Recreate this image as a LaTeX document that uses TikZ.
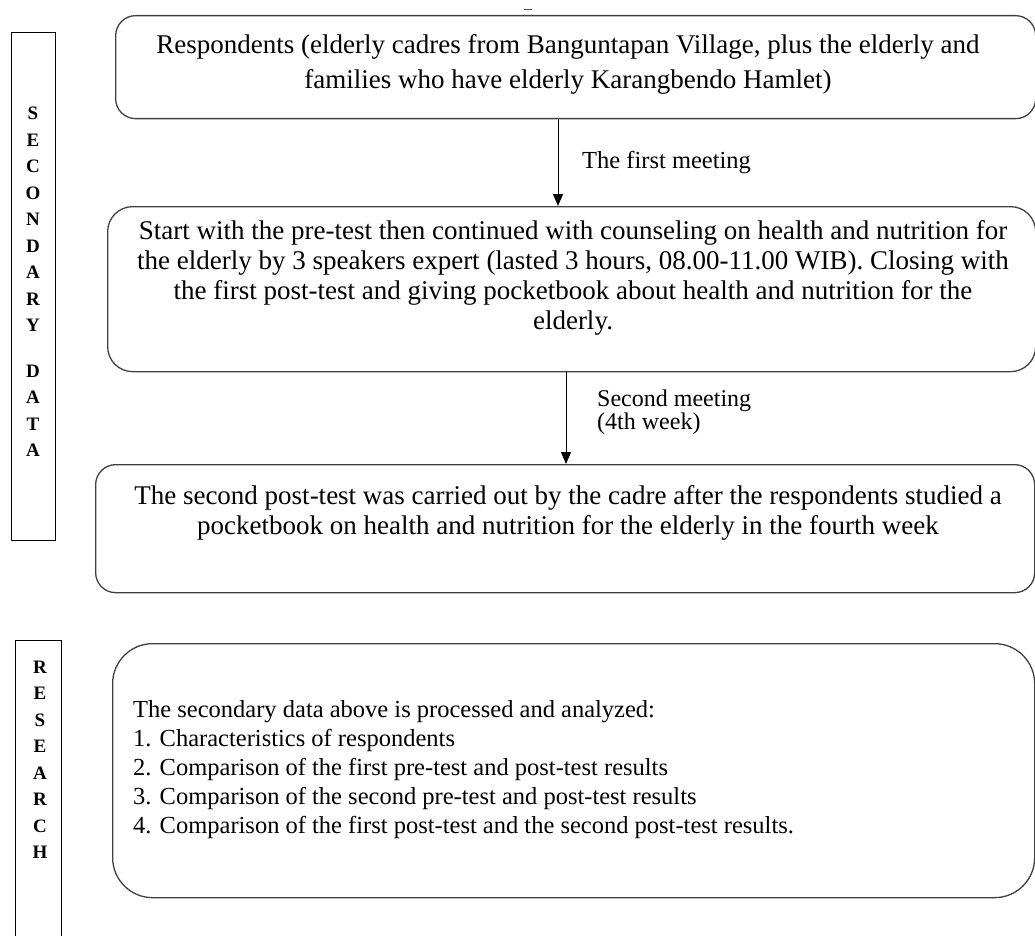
\documentclass[tikz,border=0pt]{standalone}
\usepackage{fontspec}
\setmainfont{Liberation Serif}
\usetikzlibrary{arrows.meta}
\tikzset{
  box/.style={draw=black!75, line width=1.3pt, anchor=north west, inner sep=0pt},
  side/.style={draw=black, line width=0.9pt},
  body/.style={font=\fontsize{27}{30}\selectfont, align=center, inner sep=0pt},
  listtxt/.style={font=\fontsize{24.5}{29}\selectfont, align=left, inner sep=0pt, anchor=west},
  lbl/.style={font=\fontsize{24.5}{23}\selectfont, align=left, inner sep=0pt, anchor=west},
  sidetxt/.style={font=\fontsize{19}{26.5}\selectfont\bfseries, align=center, inner sep=0pt},
  arr/.style={-{Triangle[length=12pt,width=10pt]}, line width=1pt, black},
}
\begin{document}
\begin{tikzpicture}[x=1pt,y=-1pt]
\useasboundingbox (0,0) rectangle (1035,936);
% sidebars
\draw[side] (11,32) rectangle (55,540);
\node[sidetxt] (sd) at (33,282) {S\\E\\C\\O\\N\\D\\A\\R\\Y\\[19pt]D\\A\\T\\A};
\draw[side] (15,937) -- (15,640) -- (61,640) -- (61,937);
\node[sidetxt] (rs) at (40,760) {R\\E\\S\\E\\A\\R\\C\\H};
% small mark at top
\draw[line width=0.8pt, black!70] (524,9) -- (532,9);
% boxes
\node[box, rounded corners=20pt, minimum width=920pt, minimum height=103pt] (b1) at (115,15) {};
\node[body, font=\fontsize{27}{35}\selectfont] (t1) at (568,64) {Respondents (elderly cadres from Banguntapan Village, plus the elderly and\\families who have elderly Karangbendo Hamlet)};
\node[box, rounded corners=25pt, minimum width=928pt, minimum height=165pt] (b2) at (107,206) {};
\node[body] (t2) at (573,278) {Start with the pre-test then continued with counseling on health and nutrition for\\the elderly by 3 speakers expert (lasted 3 hours, 08.00-11.00 WIB). Closing with\\the first post-test and giving pocketbook about health and nutrition for the\\elderly.};
\node[box, rounded corners=20pt, minimum width=939pt, minimum height=128pt] (b3) at (95,464) {};
\node[body] (t3) at (568,513) {The second post-test was carried out by the cadre after the respondents studied a\\pocketbook on health and nutrition for the elderly in the fourth week};
\node[box, rounded corners=40pt, minimum width=922pt, minimum height=254pt] (b4) at (112,643) {};
\node[listtxt] (t4) at (133,770) {The secondary data above is processed and analyzed:\\1. Characteristics of respondents\\2. Comparison of the first pre-test and post-test results\\3. Comparison of the second pre-test and post-test results\\4. Comparison of the first post-test and the second post-test results.};
% arrows
\path (558,0) coordinate (x1) (566,0) coordinate (x2);
\draw[arr] (b1.south -| x1) -- (b2.north -| x1);
\draw[arr] (b2.south -| x2) -- (b3.north -| x2);
\node[lbl] (l1) at (582,163) {The first meeting};
\node[lbl, font=\fontsize{24}{23}\selectfont] (l2) at (597,412) {Second meeting\\(4th week)};
\end{tikzpicture}
\end{document}
